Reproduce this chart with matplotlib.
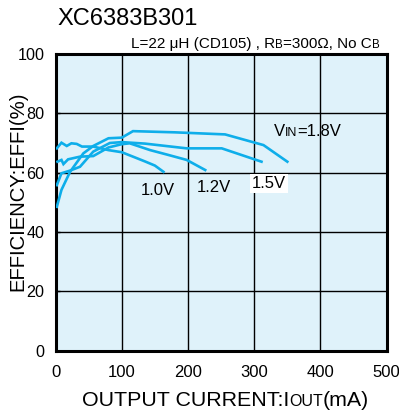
import matplotlib
matplotlib.use("Agg")
import matplotlib.pyplot as plt

plt.rcParams['font.family'] = ['Liberation Sans', 'DejaVu Sans']

# ---- data ----
i_10 = [2, 9, 17, 24, 32, 40, 57, 80, 100, 117, 135, 150, 163]
e_10 = [68.2, 70.1, 69.0, 69.9, 69.7, 68.8, 68.8, 67.6, 66.9, 65.4, 63.8, 62.4, 60.3]

i_12 = [3, 9, 12, 19, 37, 57, 80, 100, 112, 143, 170, 198, 226]
e_12 = [63.7, 64.3, 62.9, 64.5, 65.4, 65.6, 68.5, 69.6, 69.9, 67.6, 66.0, 64.3, 60.9]

i_15 = [2, 9, 22, 37, 57, 82, 100, 135, 198, 251, 311]
e_15 = [55.8, 59.8, 60.7, 62.0, 67.1, 70.0, 70.3, 69.8, 68.2, 68.2, 63.7]

i_18 = [2, 9, 22, 42, 57, 80, 100, 117, 180, 256, 314, 350]
e_18 = [48.5, 54.2, 60.3, 66.5, 69.0, 71.6, 71.8, 74.0, 73.6, 72.9, 69.3, 63.7]

series = [(i_10, e_10), (i_12, e_12), (i_15, e_15), (i_18, e_18)]
x_ticks = [0, 100, 200, 300, 400, 500]
y_ticks = [0, 20, 40, 60, 80, 100]

W, H = 399, 412
LINE = '#0eaeea'
BG = '#dff2fa'

fig = plt.figure(figsize=(W / 100, H / 100), dpi=100)
ax = fig.add_axes([55.5 / W, 1 - 350.7 / H, (386.7 - 55.5) / W, (350.7 - 54) / H])
ax.set_facecolor(BG)
for x, y in series:
    ax.plot(x, y, color=LINE, lw=1.9, solid_joinstyle='miter', zorder=3)

ax.set_xlim(0, 500)
ax.set_ylim(0, 100)
ax.set_xticks(x_ticks)
ax.set_yticks(y_ticks)
ax.grid(True, color='black', lw=1.0, zorder=1)
ax.set_axisbelow(True)
for s in ax.spines.values():
    s.set_linewidth(2.2)
ax.tick_params(axis='x', length=0, pad=10, labelsize=12)
ax.tick_params(axis='y', direction='in', length=3, width=1, pad=8, labelsize=11.6)

fig.canvas.draw()
renderer = fig.canvas.get_renderer()


def runs(x, y, parts, **kw):
    """Draw text pieces side by side starting at figure pixel (x, y), baseline-aligned."""
    cx = x
    for txt, size in parts:
        t = fig.text(cx / W, 1 - y / H, txt, fontsize=size, va='baseline', ha='left', **kw)
        bb = t.get_window_extent(renderer=renderer)
        cx += bb.width


# title and subtitle
runs(57, 25, [("XC6383B301", 17)])
runs(131, 48, [("L=22 μH (CD105) , R", 11), ("B", 8.3), ("=300Ω, No C", 11), ("B", 8.3)])

# axis labels
runs(82, 406, [("OUTPUT CURRENT:I", 15.4), ("OUT", 11.5), ("(mA)", 15.4)])
fig.text(17.5 / W, 1 - 191 / H, "EFFICIENCY:EFFI(%)", rotation=90, fontsize=14.6,
         ha='center', va='center')

# curve labels (data coordinates)
def dtp(xv, yv):
    px, py = ax.transData.transform((xv, yv))
    return px, H - py

px, py = dtp(330, 72.2)
runs(px, py, [("V", 12), ("IN", 9), ("=1.8V", 12)])
ax.text(128, 54, "1.0V", fontsize=12, va='center', ha='left', zorder=4)
ax.text(213, 55, "1.2V", fontsize=12, va='center', ha='left', zorder=4)
ax.text(297, 56.5, "1.5V", fontsize=12, va='center', ha='left', zorder=4,
        bbox=dict(facecolor='white', edgecolor='none', pad=1.5))

fig.savefig("out.png", dpi=100)
